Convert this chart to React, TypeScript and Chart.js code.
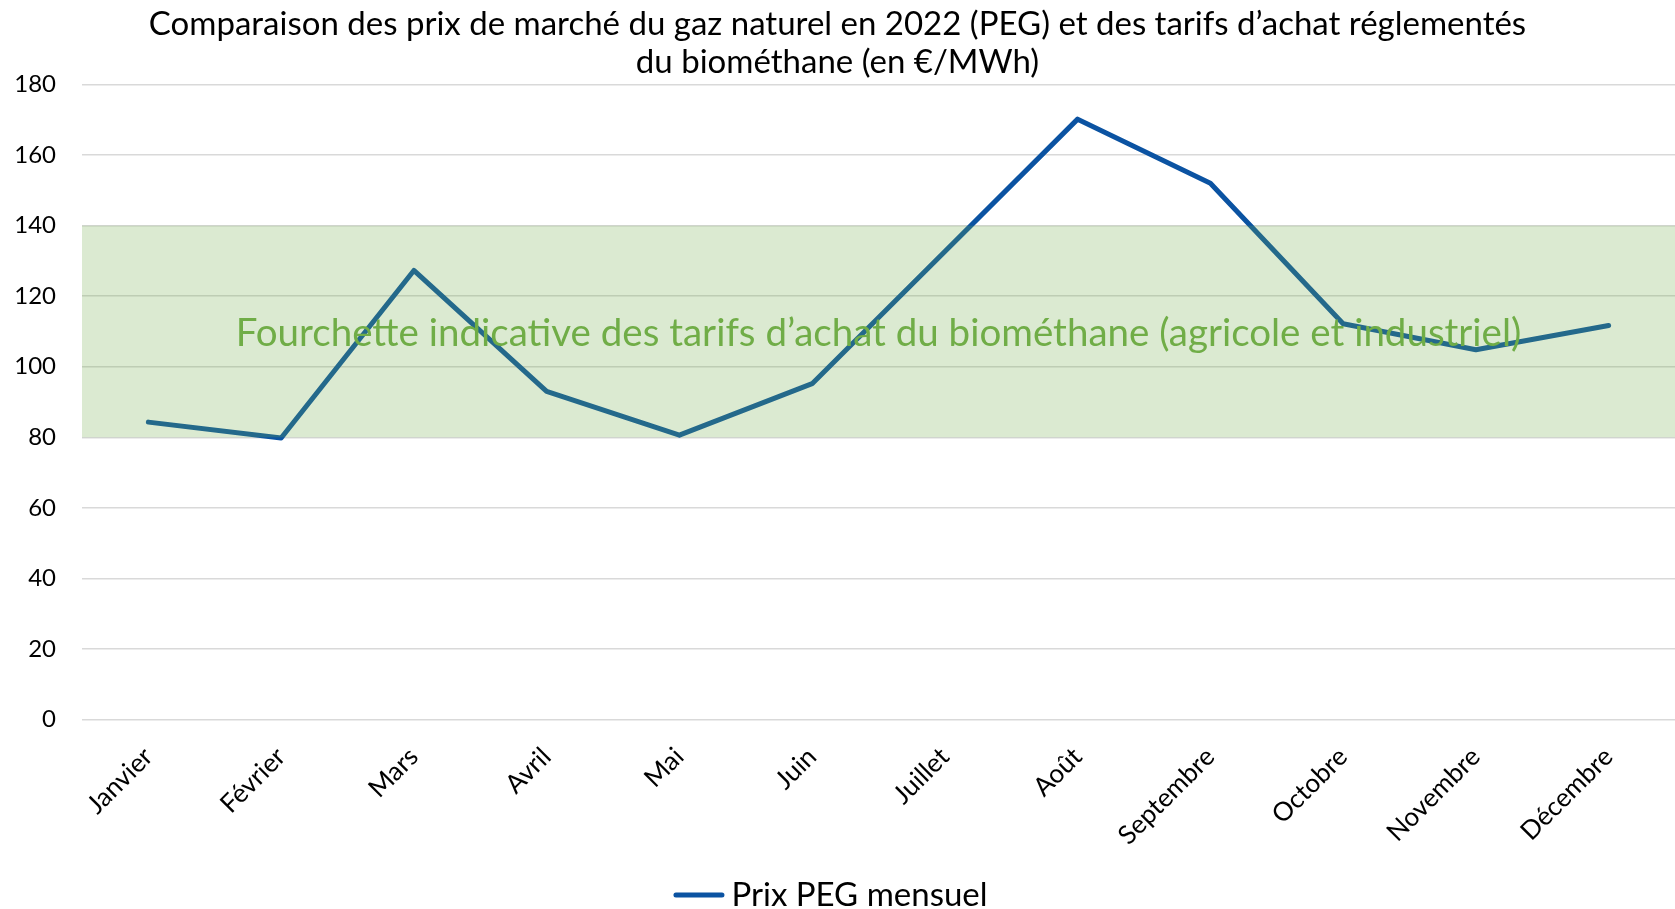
import React, { useEffect, useRef } from 'react';
import { Chart, registerables } from 'chart.js';

Chart.register(...registerables);

const TITLE_LINES = [
  'Comparaison des prix de marché du gaz naturel en 2022 (PEG) et des tarifs d’achat réglementés',
  'du biométhane (en €/MWh)',
];
const MONTHS = ['Janvier', 'Février', 'Mars', 'Avril', 'Mai', 'Juin', 'Juillet', 'Août', 'Septembre', 'Octobre', 'Novembre', 'Décembre'];
const PEG_PRICES = [84.3, 79.8, 127.3, 93.0, 80.6, 95.2, 132.7, 170.2, 152.0, 112.2, 104.8, 111.7];
const SERIES_LABEL = 'Prix PEG mensuel';
const BAND_RANGE = [80, 140];
const BAND_LABEL = 'Fourchette indicative des tarifs d’achat du biométhane (agricole et industriel)';
const Y_MIN = 0;
const Y_MAX = 180;
const Y_STEP = 20;

const FONT = 'Lato';
const LINE_COLOR = '#0B53A2';

const bandPlugin = {
  id: 'bandPlugin',
  afterDatasetsDraw(chart: any) {
    const { ctx, chartArea, scales } = chart;
    const y = scales.y;
    const top = y.getPixelForValue(BAND_RANGE[1]);
    const bottom = y.getPixelForValue(BAND_RANGE[0]);
    ctx.save();
    ctx.fillStyle = 'rgba(112,173,71,0.25)';
    ctx.fillRect(chartArea.left, top, chartArea.right - chartArea.left, bottom - top);
    ctx.fillStyle = '#70AD47';
    ctx.font = `38.5px ${FONT}`;
    ctx.textAlign = 'center';
    ctx.textBaseline = 'middle';
    const mid = (BAND_RANGE[0] + BAND_RANGE[1]) / 2;
    ctx.fillText(BAND_LABEL, (chartArea.left + chartArea.right) / 2, y.getPixelForValue(mid) + 2);
    ctx.restore();
  },
};

const legendPlugin = {
  id: 'customLegend',
  afterDraw(chart: any) {
    const { ctx, width, height } = chart;
    const ds = chart.data.datasets[0];
    ctx.save();
    ctx.font = `33px ${FONT}`;
    const sampleW = 51;
    const gap = 7;
    const textW = ctx.measureText(ds.label).width;
    const total = sampleW + gap + textW;
    const x0 = width / 2 - total / 2 - 7;
    const cy = height - 14;
    ctx.strokeStyle = ds.borderColor;
    ctx.lineWidth = 5;
    ctx.lineCap = 'round';
    ctx.beginPath();
    ctx.moveTo(x0 + 2.5, cy);
    ctx.lineTo(x0 + sampleW - 2.5, cy);
    ctx.stroke();
    ctx.fillStyle = '#000';
    ctx.textAlign = 'left';
    ctx.textBaseline = 'middle';
    ctx.fillText(ds.label, x0 + sampleW + gap, cy);
    ctx.restore();
  },
};

export default function App() {
  const canvasRef = useRef<HTMLCanvasElement | null>(null);

  useEffect(() => {
    document.body.style.margin = '0';
    const canvas = canvasRef.current;
    if (!canvas) return;
    const chart = new Chart(canvas, {
      type: 'line',
      data: {
        labels: MONTHS,
        datasets: [
          {
            label: SERIES_LABEL,
            data: PEG_PRICES,
            borderColor: LINE_COLOR,
            backgroundColor: LINE_COLOR,
            borderWidth: 5,
            borderCapStyle: 'round',
            borderJoinStyle: 'round',
            pointRadius: 0,
            tension: 0,
          },
        ],
      },
      options: {
        responsive: true,
        maintainAspectRatio: false,
        animation: false,
        layout: { padding: { left: 0, right: 0, top: 0, bottom: 44 } },
        plugins: {
          title: {
            display: true,
            text: TITLE_LINES,
            color: '#000',
            font: { family: FONT, size: 33, weight: 'normal', lineHeight: 1.13 },
            padding: { top: 6, bottom: 4 },
          },
          legend: { display: false },
          tooltip: { enabled: false },
        },
        scales: {
          x: {
            offset: true,
            grid: { display: false },
            border: { display: false },
            ticks: {
              color: '#000',
              font: { family: FONT, size: 26 },
              maxRotation: 45,
              minRotation: 45,
              padding: 14,
            },
          },
          y: {
            min: Y_MIN,
            max: Y_MAX,
            grid: { color: '#D9D9D9', lineWidth: 1.5, drawTicks: false },
            border: { display: false },
            afterFit(scale: any) {
              scale.width = 82;
            },
            ticks: {
              stepSize: Y_STEP,
              color: '#000',
              font: { family: FONT, size: 24 },
              padding: 26,
            },
          },
        },
      },
      plugins: [bandPlugin, legendPlugin],
    });
    return () => chart.destroy();
  }, []);

  return (
    <div style={{ width: '1675px', height: '909px', position: 'relative' }}>
      <canvas ref={canvasRef} />
    </div>
  );
}
